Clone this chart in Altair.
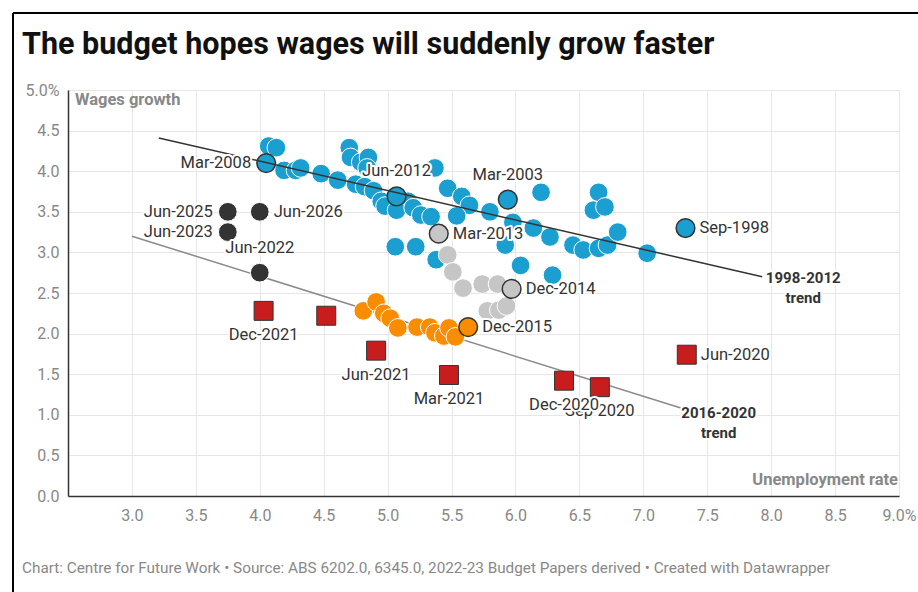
import altair as alt
import pandas as pd

# ---------------- data ----------------
# 1998-2012 quarters (blue), unlabelled points
blue_unemp = [4.07, 4.13, 4.19, 4.28, 4.32, 4.48, 4.61, 4.70, 4.71, 4.79, 4.85, 4.84,
              4.75, 4.82, 4.89, 4.95, 4.98, 5.16, 5.07, 5.20, 5.26, 5.34, 5.37, 5.47,
              5.58, 5.64, 5.54, 5.80, 5.98, 6.14, 6.27, 6.20, 5.92, 5.06, 5.22, 5.38,
              6.04, 6.29, 6.45, 6.53, 6.65, 6.72, 6.80, 6.65, 6.61, 6.70, 7.03]
blue_wages = [4.31, 4.29, 4.01, 4.01, 4.04, 3.97, 3.89, 4.29, 4.17, 4.11, 4.17, 4.04,
              3.84, 3.81, 3.76, 3.63, 3.57, 3.63, 3.52, 3.55, 3.46, 3.44, 4.04, 3.79,
              3.69, 3.58, 3.45, 3.50, 3.37, 3.30, 3.19, 3.74, 3.09, 3.07, 3.07, 2.91,
              2.84, 2.72, 3.09, 3.03, 3.05, 3.09, 3.25, 3.74, 3.52, 3.56, 2.99]

# 2013-2014 quarters (grey)
gray_unemp = [5.47, 5.51, 5.59, 5.74, 5.86, 5.78, 5.87, 5.93]
gray_wages = [2.97, 2.76, 2.56, 2.61, 2.61, 2.28, 2.29, 2.34]

# 2015-2019 quarters (orange)
orange_unemp = [4.81, 4.91, 4.97, 5.02, 5.08, 5.23, 5.33, 5.37, 5.44, 5.48, 5.53]
orange_wages = [2.28, 2.39, 2.25, 2.19, 2.07, 2.08, 2.08, 2.01, 1.97, 2.07, 1.96]

# highlighted (ringed) quarters
hl_names = ["Sep-1998", "Mar-2003", "Mar-2008", "Jun-2012", "Mar-2013", "Dec-2014", "Dec-2015"]
hl_series = ["blue", "blue", "blue", "blue", "gray", "gray", "orange"]
hl_unemp = [7.33, 5.94, 4.05, 5.07, 5.40, 5.97, 5.63]
hl_wages = [3.30, 3.65, 4.10, 3.69, 3.23, 2.55, 2.08]

# pandemic quarters (red squares)
red_names = ["Jun-2020", "Sep-2020", "Dec-2020", "Mar-2021", "Jun-2021", "Sep-2021", "Dec-2021"]
red_unemp = [7.34, 6.66, 6.38, 5.48, 4.91, 4.52, 4.03]
red_wages = [1.74, 1.34, 1.42, 1.49, 1.79, 2.22, 2.28]

# budget forecasts (dark circles)
fc_names = ["Jun-2022", "Jun-2023", "Jun-2024", "Jun-2025", "Jun-2026"]
fc_unemp = [4.00, 3.75, 3.75, 3.75, 4.00]
fc_wages = [2.75, 3.25, 3.25, 3.50, 3.50]

# trend lines
trend1_unemp = [3.21, 7.93]
trend1_wages = [4.41, 2.70]
trend1_label = ["1998-2012", "trend"]
trend2_unemp = [3.00, 7.30]
trend2_wages = [3.20, 1.08]
trend2_label = ["2016-2020", "trend"]

x_ticks = [3.0, 3.5, 4.0, 4.5, 5.0, 5.5, 6.0, 6.5, 7.0, 7.5, 8.0, 8.5, 9.0]
y_ticks = [0.0, 0.5, 1.0, 1.5, 2.0, 2.5, 3.0, 3.5, 4.0, 4.5, 5.0]

title_text = "The budget hopes wages will suddenly grow faster"
footer_text = ("Chart: Centre for Future Work \u2022 Source: ABS 6202.0, 6345.0, "
               "2022-23 Budget Papers derived \u2022 Created with Datawrapper")
y_title = "Wages growth"
x_title = "Unemployment rate"

# ---------------- styling / layout ----------------
FONT = "Roboto"
W, H = 831, 406
PAD_L, PAD_T = 68, 90
BLUE, GRAY, ORANGE, RED, DARK = "#1a9fd0", "#c6c6c6", "#fa8c00", "#c71e1d", "#333333"
SERIES_COLORS = {"blue": BLUE, "gray": GRAY, "orange": ORANGE}
LABEL_SIZE = 16.5

placement = {
    "Sep-1998": "right", "Mar-2003": "above", "Mar-2008": "left", "Jun-2012": "above",
    "Mar-2013": "right", "Dec-2014": "right", "Dec-2015": "right",
    "Jun-2020": "right", "Sep-2020": "below", "Dec-2020": "below", "Mar-2021": "below",
    "Jun-2021": "below", "Dec-2021": "below",
    "Jun-2022": "above", "Jun-2023": "left", "Jun-2025": "left", "Jun-2026": "right",
}

def frame(xs, ys, names=None):
    d = pd.DataFrame({"u": xs, "w": ys})
    if names is not None:
        d["name"] = names
    return d

x_axis = alt.Axis(values=x_ticks, title=None,
                  labelExpr="datum.value == 9 ? '9.0%' : format(datum.value, '.1f')",
                  grid=True, gridColor="#e6e6e6", gridWidth=1,
                  domain=True, domainColor=DARK, domainWidth=1.5,
                  ticks=False, tickSize=0, labelPadding=11, labelFlush=False,
                  labelOverlap=False,
                  labelFont=FONT, labelFontSize=16, labelColor="#888888")
y_axis = alt.Axis(values=y_ticks, title=None,
                  labelExpr="datum.value == 5 ? '5.0%' : format(datum.value, '.1f')",
                  grid=True, gridColor="#e6e6e6", gridWidth=1,
                  domain=True, domainColor=DARK, domainWidth=1.5,
                  ticks=False, tickSize=0, labelPadding=9, labelFlush=False,
                  labelOverlap=False,
                  labelFont=FONT, labelFontSize=16, labelColor="#888888")

X = alt.X("u:Q", scale=alt.Scale(domain=[2.5, 9.0], nice=False, zero=False), axis=x_axis)
Y = alt.Y("w:Q", scale=alt.Scale(domain=[0, 5], nice=False), axis=y_axis)

SIZE = 350

def circles(d, color, stroke="white", sw=1.0):
    return alt.Chart(d).mark_circle(size=SIZE, opacity=1, fill=color, stroke=stroke,
                                    strokeWidth=sw).encode(x=X, y=Y)

layers = []

# grey trend line (beneath the points)
layers.append(alt.Chart(frame(trend2_unemp, trend2_wages)).mark_line(
    color="#8a8a8a", strokeWidth=1.5).encode(x=X, y=Y))

layers.append(circles(frame(blue_unemp, blue_wages), BLUE))
layers.append(circles(frame(gray_unemp, gray_wages), GRAY))
layers.append(circles(frame(orange_unemp, orange_wages), ORANGE))

# highlighted ringed points
for s, col in SERIES_COLORS.items():
    idx = [i for i, v in enumerate(hl_series) if v == s]
    d = frame([hl_unemp[i] for i in idx], [hl_wages[i] for i in idx],
              [hl_names[i] for i in idx])
    layers.append(circles(d, col, stroke=DARK, sw=1.5))

# red squares
red_df = frame(red_unemp, red_wages, red_names)
layers.append(alt.Chart(red_df).mark_square(size=360, opacity=1, fill=RED, stroke=DARK,
                                            strokeWidth=1).encode(x=X, y=Y))

# forecast points
layers.append(circles(frame(fc_unemp, fc_wages, fc_names), DARK, stroke="white", sw=1))

# black trend line (over the blue points)
layers.append(alt.Chart(frame(trend1_unemp, trend1_wages)).mark_line(
    color=DARK, strokeWidth=1.5).encode(x=X, y=Y))

# ---------------- point labels ----------------
all_labels = pd.concat([frame(hl_unemp, hl_wages, hl_names),
                        frame(red_unemp, red_wages, red_names),
                        frame(fc_unemp, fc_wages, fc_names)], ignore_index=True)
all_labels = all_labels[all_labels["name"].isin(list(placement))]

OFFS = {"right": ("left", 14, 0), "left": ("right", -15, 0),
        "above": ("center", 0, -25), "below": ("center", 0, 24)}

def label_layer(d, align, dx, dy, size=LABEL_SIZE, weight="normal", color=DARK):
    base = alt.Chart(d).encode(x=X, y=Y, text="name:N")
    halo = base.mark_text(align=align, baseline="middle", dx=dx, dy=dy, font=FONT,
                          fontSize=size, fontWeight=weight, fill="white",
                          stroke="white", strokeWidth=4, strokeJoin="round")
    txt = base.mark_text(align=align, baseline="middle", dx=dx, dy=dy, font=FONT,
                         fontSize=size, fontWeight=weight, fill=color)
    return [halo, txt]

# draw Sep-2020 first so Dec-2020's halo overlaps it as in the original
order_groups = [["Sep-2020"]]
rest = [n for n in all_labels["name"] if n != "Sep-2020"]
order_groups.append(rest)
for grp in order_groups:
    for pos, (align, dx, dy) in OFFS.items():
        names = [n for n in grp if placement[n] == pos]
        if not names:
            continue
        d = all_labels[all_labels["name"].isin(names)]
        layers += label_layer(d, align, dx, dy)

# trend labels
t1 = pd.DataFrame({"u": [trend1_unemp[-1]] * 2, "w": [trend1_wages[-1]] * 2,
                   "name": trend1_label})
t2 = pd.DataFrame({"u": [trend2_unemp[-1]] * 2, "w": [trend2_wages[-1]] * 2,
                   "name": trend2_label})
layers += label_layer(t1.iloc[[0]], "center", 41, 1, size=15, weight="bold")
layers += label_layer(t1.iloc[[1]], "center", 41, 21, size=15, weight="bold")
layers += label_layer(t2.iloc[[0]], "center", 37, 5, size=15, weight="bold")
layers += label_layer(t2.iloc[[1]], "center", 37, 25, size=15, weight="bold")

# ---------------- titles, axis captions, footer, frame ----------------
def text_at(txt, x, y, size, weight="normal", color=DARK, align="left"):
    return alt.Chart(pd.DataFrame({"t": [txt]})).mark_text(
        align=align, baseline="middle", font=FONT, fontSize=size, fontWeight=weight,
        color=color).encode(x=alt.value(x), y=alt.value(y), text="t:N")

layers.append(text_at(y_title, 7, 100 - PAD_T, 16.5, "bold", "#888888"))
layers.append(text_at(x_title, 830, 480 - PAD_T, 16.5, "bold", "#888888", align="right"))
layers.append(text_at(title_text, 22 - PAD_L, 45 - PAD_T, 30.5, "bold", "#111111"))
layers.append(text_at(footer_text, 22 - PAD_L, 568 - PAD_T, 15.3, "normal", "#888888"))

border_df = pd.DataFrame({"k": [0]})
layers.append(alt.Chart(border_df).mark_rule(color="black", strokeWidth=2).encode(
    x=alt.value(13 - PAD_L), x2=alt.value(918 - PAD_L), y=alt.value(13 - PAD_T)))
layers.append(alt.Chart(border_df).mark_rule(color="black", strokeWidth=2).encode(
    x=alt.value(13 - PAD_L), y=alt.value(13 - PAD_T), y2=alt.value(592 - PAD_T)))

chart = alt.layer(*layers).properties(
    width=W, height=H,
    autosize=alt.AutoSizeParams(type="none"),
    padding={"left": PAD_L, "top": PAD_T, "right": 918 - PAD_L - W, "bottom": 592 - PAD_T - H},
    background="white",
).configure_view(stroke=None)

chart.save("out.html", embed_options={"renderer": "svg", "actions": False})
